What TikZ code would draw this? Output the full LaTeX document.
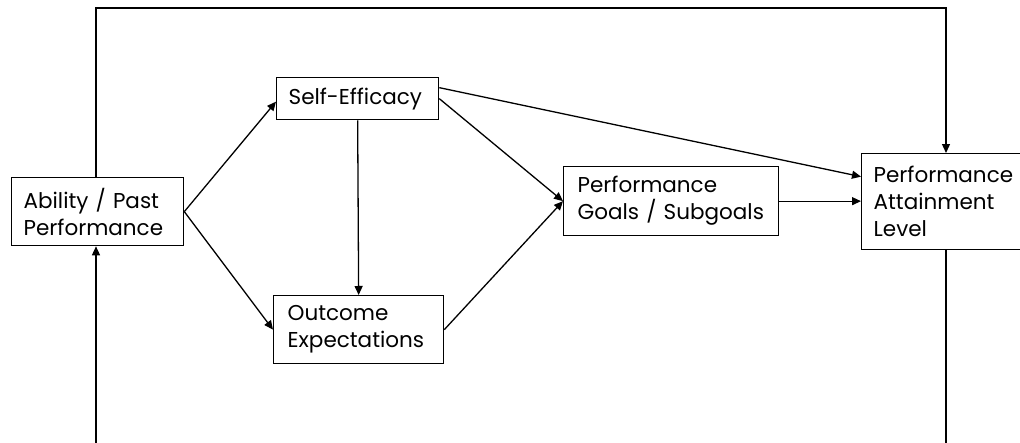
\documentclass[tikz,border=0pt]{standalone}
\usepackage{fontspec}
\setmainfont{Poppins}
\usetikzlibrary{arrows.meta}
\begin{document}
\begin{tikzpicture}[x=1pt,y=-1pt,
  box/.style={draw, line width=1.3pt, rectangle, anchor=north west, align=left,
    inner ysep=0pt, font=\fontsize{21.5}{27}\selectfont},
  link/.style={line width=1.3pt, -{Triangle[length=9pt,width=8pt]}},
  plain/.style={line width=1.3pt}]
\useasboundingbox (0,0) rectangle (1020,442);
\clip (0,0) rectangle (1020,442);
\fill[white] (0,0) rectangle (1020,442);

% boxes (north-west corner, width, height)
\node[box, inner xsep=12pt, text width=148pt, minimum height=68pt] (ability) at (11,177)
  {Ability / Past\\Performance};
\node[box, inner xsep=12pt, text width=138pt, minimum height=42pt] (selfeff) at (276,77)
  {Self-Efficacy};
\node[box, inner xsep=14pt, text width=142pt, minimum height=68pt] (outcome) at (273,295)
  {Outcome\\Expectations};
\node[box, inner xsep=14pt, text width=187pt, minimum height=69pt] (goals) at (563,166)
  {Performance\\Goals / Subgoals};
\node[box, inner xsep=12pt, text width=176pt, minimum height=96pt] (pal) at (861,153)
  {Performance\\Attainment\\Level};

% forward paths
\draw[link] (ability.east) -- ([yshift=-3pt]selfeff.west);
\draw[link] (ability.east) -- (outcome.west);
\draw[link] (selfeff.south) -- (outcome.north);
\draw[link] ([yshift=11pt]selfeff.east) -- ([yshift=25pt]pal.west);
\draw[link] (selfeff.east) -- (goals.west);
\draw[link] (outcome.east) -- (goals.west);
\draw[link] (goals.east) -- (goals.east -| pal.west);

% feedback loop
\coordinate (tl) at (96,8);
\coordinate (tr) at (946,8);
\coordinate (bl) at (96,470);
\coordinate (br) at (946,470);
\draw[link] (ability.north -| tl) -- (tl) -- (tr) -- (pal.north -| tr);
\draw[link] (pal.south -| br) -- (br) -- (bl) -- (ability.south -| bl);
\end{tikzpicture}
\end{document}
